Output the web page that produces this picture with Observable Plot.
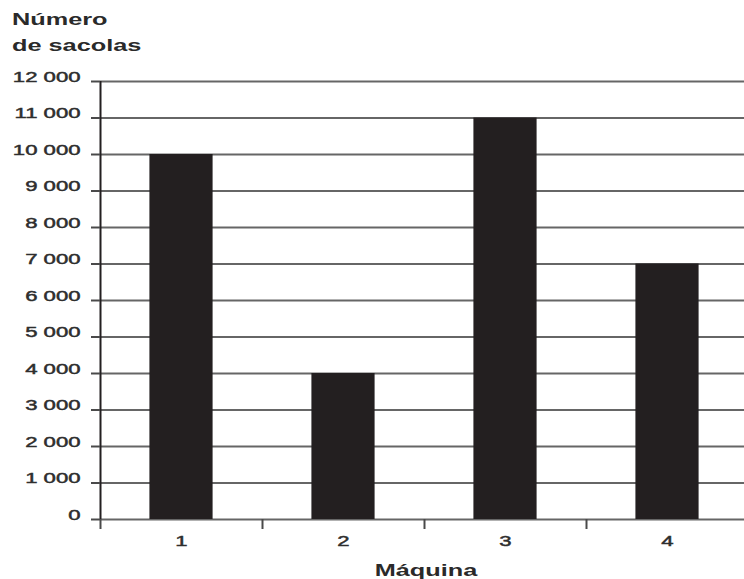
<!DOCTYPE html>
<html>
<head>
<meta charset="utf-8">
<script src="https://cdn.jsdelivr.net/npm/d3@7"></script>
<script src="https://cdn.jsdelivr.net/npm/@observablehq/plot@0.6"></script>
<style>
  html, body { margin: 0; padding: 0; background: #fff; overflow: hidden; }
  #wrap { position: relative; width: 744px; height: 579px; font-family: "Liberation Sans", Arial, sans-serif; }
  #wrap svg { position: absolute; left: 0; top: 0; }
  .ttl { position: absolute; font-weight: bold; font-size: 16px; color: #2a2a2a; white-space: nowrap; }
  #ytitle { left: 12px; top: 7px; line-height: 26px; transform: scaleX(1.58); transform-origin: left top; }
  #xtitle { left: 426px; top: 561px; line-height: 20px; transform: translateX(-50%) scaleX(1.58); transform-origin: center top; }
  g[aria-label$="tick label"] text { stroke: #2e2e2e; stroke-width: 0.45px; paint-order: stroke; }
</style>
</head>
<body>
<div id="wrap">
  <div class="ttl" id="ytitle">Número<br>de sacolas</div>
  <div class="ttl" id="xtitle">Máquina</div>
</div>
<script>
// Data
const machines = [1, 2, 3, 4];
const bags = [10000, 4000, 11000, 7000];
const yTicks = [0, 1000, 2000, 3000, 4000, 5000, 6000, 7000, 8000, 9000, 10000, 11000, 12000];
const xBoundaries = [0.5, 1.5, 2.5, 3.5];
const yTitle = "Número de sacolas";
const xTitle = "Máquina";

const data = machines.map((m, i) => ({maquina: m, sacolas: bags[i]}));
const halfBar = 0.195;

const fmt = d3.formatLocale({decimal: ",", thousands: " ", grouping: [3], currency: ["", ""]}).format(",");

const chart = Plot.plot({
  width: 744,
  height: 579,
  marginLeft: 100,
  marginRight: 0,
  marginTop: 81,
  marginBottom: 60,
  style: {fontFamily: '"Liberation Sans", Arial, sans-serif', background: "transparent"},
  x: {type: "linear", domain: [0.5, 4.5], range: [100, 748]},
  y: {domain: [0, 12000]},
  marks: [
    Plot.gridY(yTicks, {stroke: "#666666", strokeOpacity: 1, strokeWidth: 2}),
    Plot.rectY(data, {x1: d => d.maquina - halfBar, x2: d => d.maquina + halfBar, y: "sacolas", fill: "#231f20"}),
    Plot.ruleX([0.5], {y1: 0, y2: 12000, stroke: "#231f20", strokeWidth: 2}),
    Plot.axisY(yTicks, {tickSize: 9, tickPadding: 11, tickFormat: fmt, fontSize: 14, stroke: "#4a4a4a", strokeWidth: 2, fill: "#2e2e2e", label: null}),
    Plot.axisX(xBoundaries, {tickSize: 10, tickFormat: () => "", stroke: "#4a4a4a", strokeWidth: 2, label: null}),
    Plot.axisX(machines, {tickSize: 0, tickPadding: 26, tickFormat: d => String(d), fontSize: 14, fill: "#2e2e2e", label: null})
  ]
});

// Horizontally widen tick label glyphs as in the reference
d3.select(chart).selectAll('g[aria-label$="tick label"] text').each(function () {
  const t = d3.select(this);
  const x = +t.attr("x") || 0, y = +t.attr("y") || 0;
  const tr = t.attr("transform") || "";
  t.attr("x", null).attr("y", null).attr("transform", `${tr} translate(${x},${y}) scale(1.58,1)`);
});

document.getElementById("wrap").prepend(chart);
</script>
</body>
</html>
